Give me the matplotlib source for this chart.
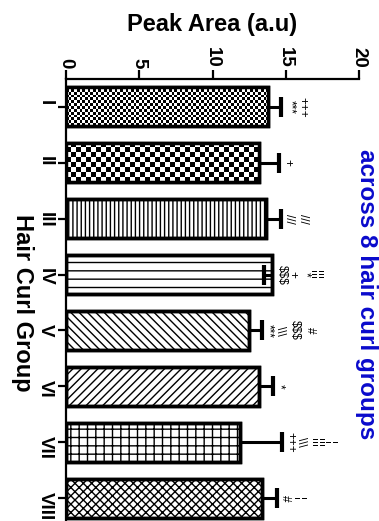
"""Peak area per hair curl group, drawn rotated (bars horizontal, text turned -90)."""

import matplotlib

matplotlib.use("Agg")
import matplotlib.pyplot as plt
import numpy as np

plt.rcParams["font.family"] = ["Liberation Sans", "DejaVu Sans"]
plt.rcParams["hatch.linewidth"] = 1.0

# values
groups = ["I", "II", "III", "IV", "V", "VI", "VII", "VIII"]
means = [13.8, 13.15, 13.65, 14.05, 12.5, 13.2, 11.9, 13.4]
err_upper = [0.9, 1.4, 1.0, 0.0, 0.9, 0.9, 2.85, 1.0]
err_lower = [0.0, 0.0, 0.0, 0.55, 0.0, 0.0, 0.0, 0.0]
x_ticks = [0, 5, 10, 15, 20]
sig_marks = [
    ["***", "+++"],
    ["+"],
    ["///", "///"],
    ["$$$", "+", "*", "¦¦¦"],
    ["***", "\\\\\\", "$$$", "#"],
    ["*"],
    ["+++", "\\\\\\", "¦¦¦", "¦"],
    ["#", "¦"],
]

# styling
hatches = [None, None, "||||", "--", "\\\\\\\\", "////", "++", "xxxx"]
checker_px = {0: 2.7, 1: 5.0}
mark_offsets_px = [
    [9, 21],
    [8],
    [8, 22],
    [10, 21, 33, 44],
    [6, 18, 33, 48],
    [7],
    [8, 19, 35, 48],
    [8, 22],
]

W, H = 379, 521
fig = plt.figure(figsize=(W / 100, H / 100), dpi=100)
ax = fig.add_axes([66 / W, (H - 526) / H, 293 / W, 447 / H])

pos = np.arange(len(groups))
ax.set_xlim(0, 20)
ax.set_ylim(len(groups) - 0.5, -0.5)

bars = ax.barh(pos, means, height=0.7, color="white", edgecolor="black",
               linewidth=2.5, zorder=2)
for b, h in zip(bars, hatches):
    if h:
        b.set_hatch(h)


def checker(patch, cell):
    x0, y0 = patch.get_x(), patch.get_y()
    w, h = patch.get_width(), patch.get_height()
    (px0, py0), (px1, py1) = ax.transData.transform([(x0, y0), (x0 + w, y0 + h)])
    nx = max(1, int(round(abs(px1 - px0) / cell)))
    ny = max(1, int(round(abs(py1 - py0) / cell)))
    grid = np.add.outer(np.arange(ny), np.arange(nx)) % 2
    im = ax.imshow(grid, cmap="gray", vmin=0, vmax=1, extent=(x0, x0 + w, y0, y0 + h),
                   interpolation="nearest", aspect="auto", zorder=2.5)
    im.set_clip_path(patch)


for i, cell in checker_px.items():
    checker(bars[i], cell)

ax.barh(pos, means, height=0.7, facecolor="none", edgecolor="black",
        linewidth=2.5, zorder=3)

# one-sided error bars
m = np.array(means)
ends = np.where(np.array(err_upper) > 0, m + np.array(err_upper), m - np.array(err_lower))
ax.hlines(pos, m, ends, color="black", linewidth=2.2, zorder=4)
ax.plot(ends, pos, linestyle="none", marker="|", markersize=14.5, markeredgewidth=3,
        color="black", zorder=4)

anchors = np.maximum(m, ends)
for i, (marks, offs) in enumerate(zip(sig_marks, mark_offsets_px)):
    for s, o in zip(marks, offs):
        ax.annotate(s, xy=(anchors[i], pos[i]), xytext=(o, 0), textcoords="offset pixels",
                    rotation=-90, ha="center", va="center", fontsize=8.5, zorder=5)

# axes styling
for side in ("right", "bottom"):
    ax.spines[side].set_visible(False)
for side in ("top", "left"):
    ax.spines[side].set_linewidth(1.6)
ax.xaxis.tick_top()
ax.xaxis.set_label_position("top")
ax.set_xticks(x_ticks)
ax.set_xticklabels([str(t) for t in x_ticks], rotation=-90, fontsize=13.5,
                   fontweight="bold")
ax.set_yticks(pos)
ax.set_yticklabels(groups, rotation=-90, fontsize=13.5, fontweight="bold")
ax.tick_params(axis="x", length=6.5, width=1.6, pad=1.5)
ax.tick_params(axis="y", length=6, width=1.6, pad=3)

ax.set_xlabel("Peak Area (a.u)", fontsize=17, fontweight="bold", labelpad=11.5)
ax.set_ylabel("Hair Curl Group", fontsize=17, fontweight="bold", rotation=-90,
              va="center", ha="center")
ax.yaxis.set_label_coords(-0.15, 0.5)

fig.text(360 / W, 1 - 294 / H, "across 8 hair curl groups", rotation=-90,
         rotation_mode="anchor", ha="center", va="baseline", fontsize=17.5,
         fontweight="bold", color="#0A0ACC")

fig.savefig("out.png", dpi=100)
